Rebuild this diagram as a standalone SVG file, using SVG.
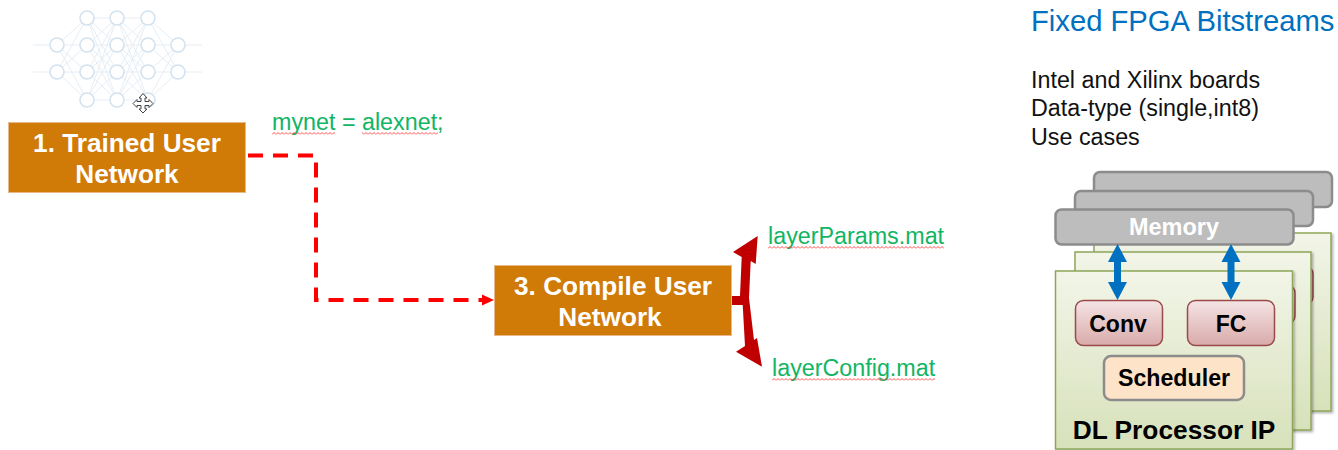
<svg xmlns="http://www.w3.org/2000/svg" width="1338" height="450" viewBox="0 0 1338 450">
<style>
text{font-family:"Liberation Sans",Arial,sans-serif}
.box{fill:#d07a08;stroke:#e8b98a;stroke-width:1}
.boxt{fill:#fff;font-size:26.2px;font-weight:700;text-anchor:middle}
.grn{fill:#12b564;font-size:23.3px}
.blk{fill:#111;font-size:23.3px}
.nn{fill:#fff;stroke:#d3e2ef;stroke-width:1.6}
.nl{stroke:#e6eef5;stroke-width:1;fill:none}
.mem{fill:#bdbdbd;stroke:#8c8c8c;stroke-width:2.5}
.brd{fill:url(#gb);stroke:#8fa65a;stroke-width:1.5}
.red{fill:url(#gr);stroke:#9a4a4a;stroke-width:1.5}
.lbl{fill:#000;font-weight:700;text-anchor:middle}
.dash{fill:none;stroke:#ff0000;stroke-width:4;stroke-dasharray:15 10}
.sq{fill:url(#sq)}
</style>
<defs>
<linearGradient id="gb" x1="0" y1="0" x2="0" y2="1"><stop offset="0" stop-color="#f2f5e8"/><stop offset="1" stop-color="#d7e1ba"/></linearGradient>
<linearGradient id="gr" x1="0" y1="0" x2="0" y2="1"><stop offset="0" stop-color="#f5e4e4"/><stop offset="1" stop-color="#d9aaaa"/></linearGradient>
<pattern id="sq" width="4" height="3" patternUnits="userSpaceOnUse"><path d="M0 2.500L2 0.500L4 2.500" fill="none" stroke="#ff3b3b" stroke-width="0.9"/></pattern>
<filter id="sh" x="-5%" y="-5%" width="112%" height="112%"><feDropShadow dx="1.5" dy="1.5" stdDeviation="1.2" flood-color="#000" flood-opacity="0.3"/></filter>
</defs>

<g id="neural-net">
<path class="nl" d="M33 45H57M33 72H57M178 45H202M178 72H202M87 18H148M87 45H178M87 72H178M87 100H148M57 45H87M57 72H87"/>
<path class="nl" d="M57 45L87 18M57 45L87 72M57 45L87 100M57 72L87 18M57 72L87 45M57 72L87 100M87 18L117 45M87 18L117 72M87 18L117 100M87 45L117 18M87 45L117 72M87 45L117 100M87 72L117 18M87 72L117 45M87 72L117 100M87 100L117 18M87 100L117 45M87 100L117 72M117 18L148 45M117 18L148 72M117 18L148 100M117 45L148 18M117 45L148 72M117 45L148 100M117 72L148 18M117 72L148 45M117 72L148 100M117 100L148 18M117 100L148 45M117 100L148 72M148 18L178 45M148 18L178 72M148 45L178 72M148 72L178 45M148 100L178 45M148 100L178 72"/>
<g class="nn">
<circle cx="57" cy="45" r="7"/><circle cx="57" cy="72" r="7"/>
<circle cx="87" cy="18" r="7"/><circle cx="87" cy="45" r="7"/><circle cx="87" cy="72" r="7"/><circle cx="87" cy="100" r="7"/>
<circle cx="117" cy="18" r="7"/><circle cx="117" cy="45" r="7"/><circle cx="117" cy="72" r="7"/><circle cx="117" cy="100" r="7"/>
<circle cx="148" cy="18" r="7"/><circle cx="148" cy="45" r="7"/><circle cx="148" cy="72" r="7"/><circle cx="148" cy="100" r="7"/>
<circle cx="178" cy="45" r="7"/><circle cx="178" cy="72" r="7"/>
</g>
<path d="M143 93.500L147 98H145V101.500H149V99.500L153 103.500L149 107.500V105.500H145V109H147L143 113L139 109H141V105.500H137V107.500L133 103.500L137 99.500V101.500H141V98H139Z" fill="#fff" stroke="#444" stroke-width="1"/>
</g>

<g id="connectors">
<path class="dash" d="M248 155.500H316V300H482"/>
<path d="M482 294.500L494 300L482 305.500Z" fill="#ff0000"/>
<path d="M731 296H740L741.700 257L733 252L757.700 236L755.700 264L750.700 261L749 298L754 340L757 338L762 366.700L736 351.700L745 346L742.700 305H731Z" fill="#c00000"/>
</g>

<g id="node-trained">
<rect class="box" x="8.500" y="122.500" width="237" height="70"/>
<text class="boxt" x="127" y="152">1. Trained User</text>
<text class="boxt" x="127" y="183">Network</text>
</g>
<g id="node-compile">
<rect class="box" x="494.500" y="265.500" width="237" height="70"/>
<text class="boxt" x="613" y="295">3. Compile User</text>
<text class="boxt" x="610" y="326">Network</text>
</g>

<g id="label-mynet">
<text class="grn" x="272" y="130">mynet = alexnet;</text>
<rect class="sq" x="272" y="132" width="63" height="3"/>
<rect class="sq" x="362" y="132" width="76" height="3"/>
</g>
<g id="label-params">
<text class="grn" x="768" y="244">layerParams.mat</text>
<rect class="sq" x="768" y="246" width="176" height="3"/>
</g>
<g id="label-config">
<text class="grn" x="772" y="376">layerConfig.mat</text>
<rect class="sq" x="772" y="378" width="163" height="3"/>
</g>

<g id="fpga-text">
<text x="1031" y="31" fill="#0070c0" font-size="29.200px">Fixed FPGA Bitstreams</text>
<text class="blk" x="1031" y="88">Intel and Xilinx boards</text>
<text class="blk" x="1031" y="116">Data-type (single,int8)</text>
<text class="blk" x="1031" y="145">Use cases</text>
</g>

<g id="board-back">
<rect class="brd" x="1094" y="233" width="237" height="178" filter="url(#sh)"/>
<rect class="red" x="1250" y="266" width="63" height="39" rx="8"/>
</g>
<g id="board-mid">
<rect class="brd" x="1075" y="252" width="236" height="178" filter="url(#sh)"/>
<rect class="red" x="1230" y="285" width="65" height="39" rx="8"/>
</g>
<g id="memory-back"><rect class="mem" x="1094" y="172" width="238" height="35" rx="6"/></g>
<g id="memory-mid"><rect class="mem" x="1075" y="191" width="238" height="35" rx="6"/></g>
<g id="board-front">
<rect class="brd" x="1055.500" y="271" width="237" height="178" filter="url(#sh)"/>
<text class="lbl" x="1174" y="439" font-size="26.300px">DL Processor IP</text>
</g>
<g id="memory-front">
<rect class="mem" x="1055.500" y="209.500" width="238" height="35" rx="6"/>
<text x="1174" y="235" fill="#fff" font-size="23.500px" font-weight="700" text-anchor="middle">Memory</text>
</g>
<g id="conv">
<rect class="red" x="1075.500" y="300.500" width="87" height="45" rx="8"/>
<text class="lbl" x="1118" y="332" font-size="23px">Conv</text>
</g>
<g id="fc">
<rect class="red" x="1187.500" y="300.500" width="87" height="45" rx="8"/>
<text class="lbl" x="1231" y="332" font-size="23px">FC</text>
</g>
<g id="scheduler">
<rect x="1104" y="356" width="140" height="44" rx="7" fill="#fde4c8" stroke="#8c8c8c" stroke-width="2.500"/>
<text class="lbl" x="1174" y="386" font-size="23.200px">Scheduler</text>
</g>
<g id="mem-arrows" fill="#0070c0">
<path d="M1117.500 244L1127 262H1121V282H1127L1117.500 300L1108 282H1114V262H1108Z"/>
<path d="M1231 244L1240.500 262H1234.500V282H1240.500L1231 300L1221.500 282H1227.500V262H1221.500Z"/>
</g>
</svg>
